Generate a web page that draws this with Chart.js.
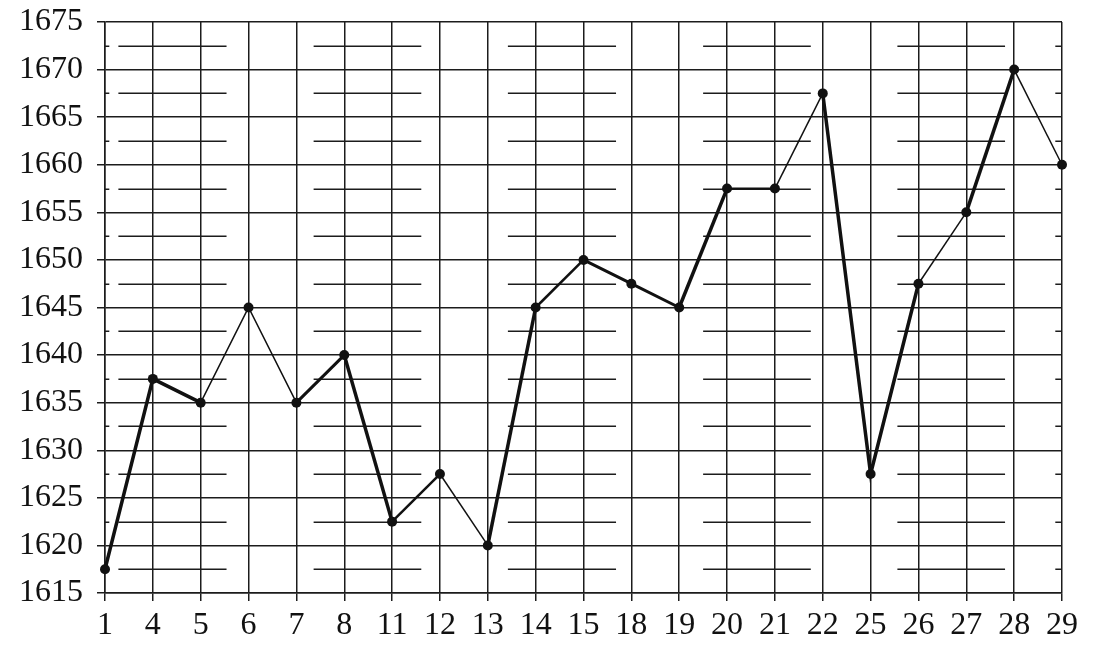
<!DOCTYPE html>
<html>
<head>
<meta charset="utf-8">
<script src="https://cdn.jsdelivr.net/npm/chart.js@4/dist/chart.umd.min.js"></script>
<style>
html,body{margin:0;padding:0;background:#fff;}
#wrap{width:1098px;height:648px;}
</style>
</head>
<body>
<div id="wrap"><canvas id="c" width="1098" height="648"></canvas></div>
<script>
// ---- data ----
const categories = ['1','4','5','6','7','8','11','12','13','14','15','18','19','20','21','22','25','26','27','28','29'];
const values = [1617.5,1637.5,1635,1645,1635,1640,1622.5,1627.5,1620,1645,1650,1647.5,1645,1657.5,1657.5,1667.5,1627.5,1647.5,1655,1670,1660];
const yMin = 1615, yMax = 1675, yStep = 5;
const minorLevels = [1617.5,1622.5,1627.5,1632.5,1637.5,1642.5,1647.5,1652.5,1657.5,1662.5,1667.5,1672.5];

// ---- styling ----
const segWidths = [3.5,3.5,1.5,1.5,3,3.5,2.5,1.5,3.5,2.5,3,3,3.5,2,1.5,3.5,3.5,1.5,3.5,1.5];
// minor gridline pieces, in category-index units
const minorPieces = [[0,0.09],[0.28,2.54],[4.36,6.61],[8.42,10.68],[12.5,14.75],[16.56,18.81],[19.86,20]];
const ink = '#111';
const gridInk = '#1c1c1c';
const fontSpec = {family:"'Liberation Serif','Times New Roman',serif", size:32};

const minorGrid = {
  id:'minorGrid',
  beforeDatasetsDraw(chart){
    const {ctx, scales:{x,y}} = chart;
    ctx.save();
    ctx.strokeStyle = gridInk;
    ctx.lineWidth = 1.5;
    minorLevels.forEach(v=>{
      const py = Math.round(y.getPixelForValue(v))+0.25;
      minorPieces.forEach(([a,b])=>{
        ctx.beginPath();
        ctx.moveTo(x.getPixelForValue(a), py);
        ctx.lineTo(x.getPixelForValue(b), py);
        ctx.stroke();
      });
    });
    ctx.restore();
  }
};

new Chart(document.getElementById('c'), {
  type:'line',
  data:{
    labels:categories,
    datasets:[{
      data:values,
      borderColor:ink,
      backgroundColor:ink,
      pointBackgroundColor:ink,
      pointBorderColor:ink,
      pointRadius:5,
      pointBorderWidth:0,
      borderWidth:2,
      tension:0,
      segment:{ borderWidth: c => segWidths[c.p0DataIndex] }
    }]
  },
  options:{
    responsive:false,
    animation:false,
    devicePixelRatio:1,
    layout:{padding:{left:0,right:36,top:22,bottom:0}},
    plugins:{legend:{display:false},tooltip:{enabled:false},title:{display:false}},
    scales:{
      x:{
        type:'category',
        offset:false,
        grid:{color:gridInk,lineWidth:1.5,tickLength:8,drawTicks:true,tickColor:gridInk},
        border:{color:gridInk,width:1.5},
        ticks:{color:ink,font:fontSpec,padding:5,maxRotation:0,autoSkip:false},
        afterFit(s){ s.height = 55; s.paddingLeft = 0; s.paddingRight = 0; }
      },
      y:{
        min:yMin,max:yMax,
        grid:{color:gridInk,lineWidth:1.5,tickLength:8,drawTicks:true,tickColor:gridInk},
        border:{color:gridInk,width:1.5},
        ticks:{stepSize:yStep,color:ink,font:fontSpec,padding:14,callback:v=>String(v)},
        afterFit(s){ s.width = 105; s.paddingTop = 0; s.paddingBottom = 0; }
      }
    }
  },
  plugins:[minorGrid]
});
</script>
</body>
</html>
